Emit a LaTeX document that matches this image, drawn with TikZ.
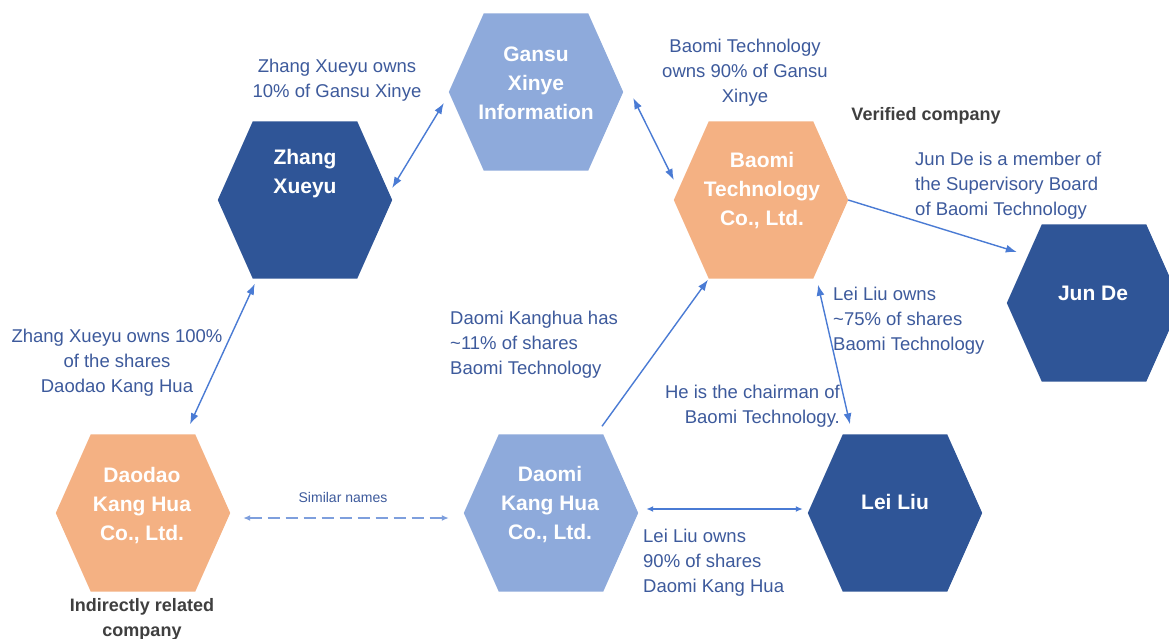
\documentclass[tikz,border=0pt]{standalone}
\usepackage{fontspec}
\setmainfont{Liberation Sans}
\usetikzlibrary{arrows.meta,calc}
\definecolor{darkhex}{HTML}{2F5597}
\definecolor{lighthex}{HTML}{8EAADB}
\definecolor{orangehex}{HTML}{F4B183}
\definecolor{linkblue}{HTML}{4A7BD4}
\definecolor{dashblue}{HTML}{7E9FDD}
\definecolor{notetext}{HTML}{3D5A9C}
\definecolor{captiongray}{HTML}{3F3F3F}
\begin{document}
\begin{tikzpicture}[x=1pt,y=-1pt,
  hex node/.style={rectangle,minimum width=174pt,minimum height=157pt,inner sep=0pt},
  hex text/.style={text=white,font=\fontsize{21}{29}\selectfont\bfseries,align=center,inner sep=0pt,yshift=-3pt},
  note/.style={text=notetext,font=\fontsize{18.5}{25}\selectfont,inner sep=0pt,yshift=-3pt},
  caption/.style={text=captiongray,font=\fontsize{18}{25}\selectfont\bfseries,align=center,inner sep=0pt,yshift=-2pt},
  link/.style={linkblue,line width=1.4pt},
  two way/.style={{Latex[length=11pt,width=8pt]}-{Latex[length=11pt,width=8pt]}},
  one way/.style={-{Latex[length=11pt,width=8pt]}},
  small heads/.style={{Latex[length=7pt,width=6pt]}-{Latex[length=7pt,width=6pt]}}]%
  \useasboundingbox[fill=white] (0,0) rectangle (1169,639);
  % hexagons
  \foreach \nd/\px/\py/\col in {zx/305/200/darkhex, gx/536/92/lighthex, bt/761/200/orangehex,
      jd/1094/303/darkhex, ll/895/513/darkhex, dk/143/513/orangehex, dm/551/513/lighthex} {
    \node[hex node] (\nd) at (\px,\py) {};
    \fill[\col] ($(\nd.north west)+(35,0)$) -- ($(\nd.north east)+(-35,0)$) -- (\nd.east)
      -- ($(\nd.south east)+(-35,0)$) -- ($(\nd.south west)+(35,0)$) -- (\nd.west) -- cycle;
  }
  \node[hex text] (zxt) at (305,171) {Zhang\\Xueyu};
  \node[hex text] (gxt) at (536,80) {Gansu\\Xinye\\Information};
  \node[hex text] (btt) at (762,188) {Baomi\\Technology\\Co., Ltd.};
  \node[hex text] (jdt) at (1093,290) {Jun De};
  \node[hex text] (llt) at (895,499) {Lei Liu};
  \node[hex text] (dkt) at (142,503) {Daodao\\Kang Hua\\Co., Ltd.};
  \node[hex text] (dmt) at (550,502) {Daomi\\Kang Hua\\Co., Ltd.};

  % notes
  \node[note,align=center] (n1) at (337,77) {Zhang Xueyu owns\\10\% of Gansu Xinye};
  \node[note,align=center] (n2) at (745,70) {Baomi Technology\\owns 90\% of Gansu\\Xinye};
  \node[note,align=left,anchor=west] (n3) at (915,183) {Jun De is a member of\\the Supervisory Board\\of Baomi Technology};
  \node[note,align=left,anchor=west] (n4) at (833,318) {Lei Liu owns\\\textasciitilde75\% of shares\\Baomi Technology};
  \node[note,align=center] (n5) at (117,360) {Zhang Xueyu owns 100\%\\of the shares\\Daodao Kang Hua};
  \node[note,align=left,anchor=west] (n6) at (450,342) {Daomi Kanghua has\\\textasciitilde11\% of shares\\Baomi Technology};
  \node[note,align=right,anchor=east] (n7) at (840,403) {He is the chairman of\\Baomi Technology.};
  \node[note,align=left,anchor=west] (n8) at (643,560) {Lei Liu owns\\90\% of shares\\Daomi Kang Hua};
  \node[note,font=\fontsize{14}{17}\selectfont,yshift=1pt] (n9) at (343,495) {Similar names};
  \node[caption] (verified) at (926,114) {Verified company};
  \node[caption] (indirect) at (142,617) {Indirectly related\\company};

  % connectors
  \draw[link,two way] ([yshift=12pt]zx.east) -- ([xshift=-5pt,yshift=-11pt]gx.west);
  \draw[link,two way] ([xshift=10pt,yshift=-6pt]gx.east) -- ([yshift=20pt]bt.west);
  \draw[link,one way] (bt.east) -- ([xshift=10pt,yshift=51pt]jd.west);
  \draw[link,two way] ([xshift=37pt,yshift=-5pt]zx.south west) -- ([xshift=47pt,yshift=10pt]dk.north);
  \draw[link,one way] ([xshift=51pt,yshift=8pt]dm.north) -- ([xshift=-53pt,yshift=-1pt]bt.south);
  \draw[link,two way] ([xshift=57pt,yshift=-6pt]bt.south) -- ([xshift=-45pt,yshift=10pt]ll.north);
  \draw[dashblue,line width=2pt,dash pattern=on 12pt off 6pt,small heads]
    ([xshift=13pt,yshift=-5pt]dk.east) -- ([xshift=-15pt,yshift=-5pt]dm.west);
  \draw[link,line width=2pt,small heads] ([xshift=8pt,yshift=4pt]dm.east) -- ([xshift=-5pt,yshift=4pt]ll.west);
\end{tikzpicture}
\end{document}
